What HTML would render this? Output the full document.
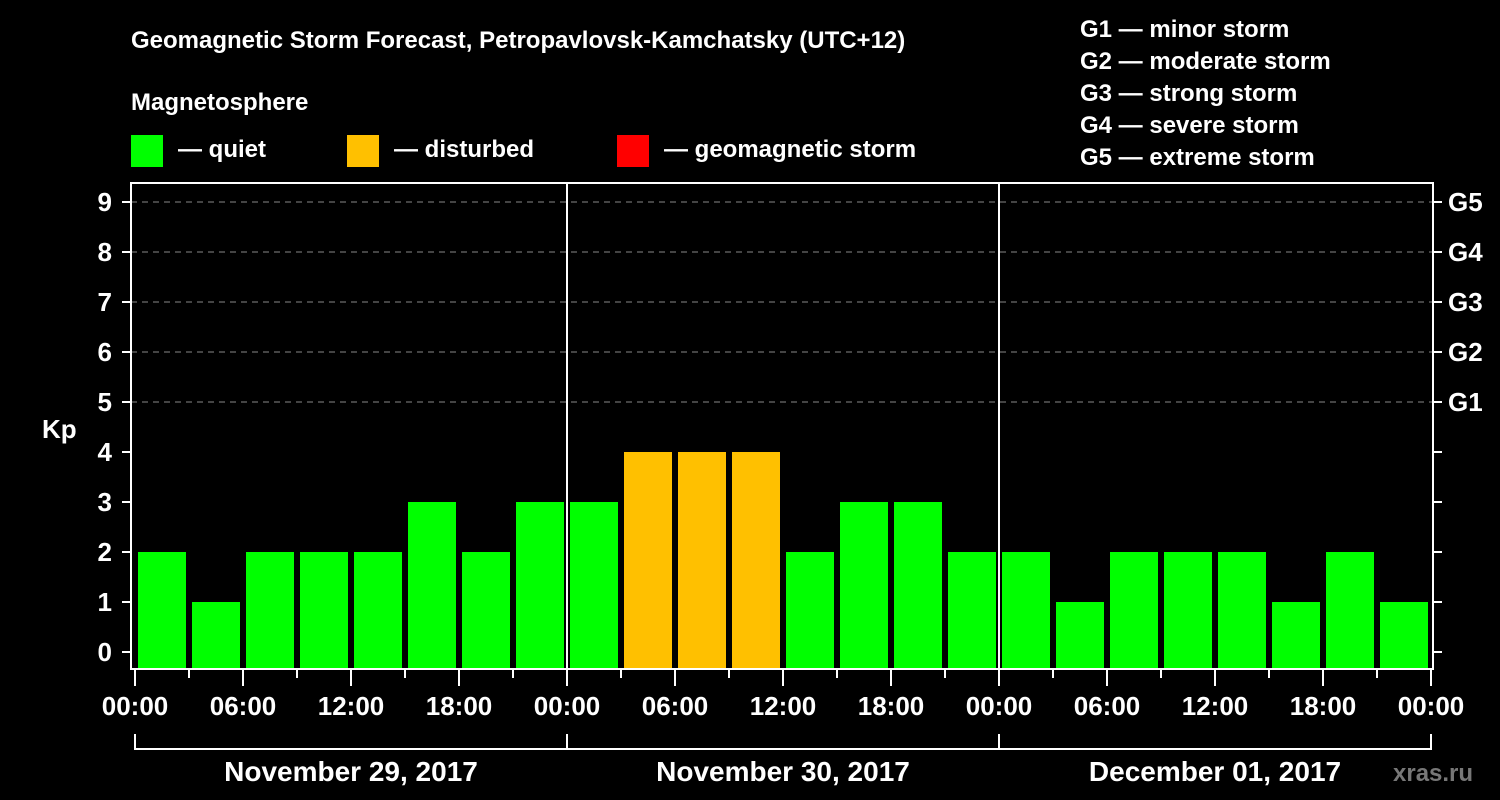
<!DOCTYPE html>
<html><head><meta charset="utf-8"><style>
html,body{margin:0;padding:0;background:#000;}
svg{display:block;font-family:"Liberation Sans",sans-serif;font-weight:bold;}
</style></head><body>
<svg id="chart" width="1500" height="800" viewBox="0 0 1500 800">
<rect width="1500" height="800" fill="#000"/>
<text x="131" y="48" fill="#fff" font-size="24">Geomagnetic Storm Forecast, Petropavlovsk-Kamchatsky (UTC+12)</text>
<text x="131" y="110" fill="#fff" font-size="24">Magnetosphere</text>
<rect x="131" y="135" width="32" height="32" fill="#00ff00"/>
<text x="178" y="157" fill="#fff" font-size="24">— quiet</text>
<rect x="347" y="135" width="32" height="32" fill="#ffc000"/>
<text x="394" y="157" fill="#fff" font-size="24">— disturbed</text>
<rect x="617" y="135" width="32" height="32" fill="#ff0000"/>
<text x="664" y="157" fill="#fff" font-size="24">— geomagnetic storm</text>
<g fill="#fff" font-size="24">
<text x="1080" y="37">G1 — minor storm</text>
<text x="1080" y="69">G2 — moderate storm</text>
<text x="1080" y="101">G3 — strong storm</text>
<text x="1080" y="133">G4 — severe storm</text>
<text x="1080" y="165">G5 — extreme storm</text>
</g>
<text x="42" y="438" fill="#fff" font-size="26">Kp</text>
<text x="1393" y="781" fill="#777" font-size="24">xras.ru</text>
<g id="grid"></g><g id="bars"></g><g id="axes"></g>
</svg>
<script>
const kpValues=[2,1,2,2,2,3,2,3, 3,4,4,4,2,3,3,2, 2,1,2,2,2,1,2,1];
const yTicks=[0,1,2,3,4,5,6,7,8,9];
const gLabels=["G1","G2","G3","G4","G5"];
const xLabels=["00:00","06:00","12:00","18:00","00:00","06:00","12:00","18:00","00:00","06:00","12:00","18:00","00:00"];
const dayLabels=["November 29, 2017","November 30, 2017","December 01, 2017"];
const NS="http://www.w3.org/2000/svg";
const X0=135,SLOT=54,Y0=652,UNIT=50,LEFT=131,RIGHT=1433,TOP=183,BOT=669;
const xs=i=>X0+SLOT*i, ys=v=>Y0-UNIT*v;
function mk(t,a,p){const e=document.createElementNS(NS,t);for(const k in a)e.setAttribute(k,a[k]);p.appendChild(e);return e;}
const grid=document.getElementById('grid'),bars=document.getElementById('bars'),axes=document.getElementById('axes');
yTicks.forEach(v=>{
 if(v>=5){const l=mk('line',{x1:LEFT,x2:RIGHT,y1:ys(v),y2:ys(v),stroke:'#888','stroke-width':1,'stroke-dasharray':'6,5'},grid);
 
 }
 const t=mk('line',{x1:122,x2:LEFT,y1:ys(v),y2:ys(v),stroke:'#fff','stroke-width':2},axes);
 
 
 const r=mk('line',{x1:RIGHT,x2:1442,y1:ys(v),y2:ys(v),stroke:'#fff','stroke-width':2},axes);
 
 
 const tx=mk('text',{x:112,y:ys(v)+9,fill:'#fff','font-size':26,'text-anchor':'end'},axes);tx.textContent=v;
 
 
 if(v>=5){const g=mk('text',{x:1448,y:ys(v)+9,fill:'#fff','font-size':26},axes);g.textContent=gLabels[v-5];
 
 }
});
kpValues.forEach((v,i)=>{
 const c=v>=5?'#ff0000':(v>=4?'#ffc000':'#00ff00');
 const b=mk('rect',{x:xs(i)+3,y:ys(v),width:SLOT-6,height:668-ys(v),fill:c},bars);
 
 
});
const frame=mk('path',{d:`M${LEFT} ${TOP}H${RIGHT}V${BOT}H${LEFT}Z`,fill:'none',stroke:'#fff','stroke-width':2},axes);


[8,16].forEach(i=>{const d=mk('line',{x1:xs(i),x2:xs(i),y1:TOP,y2:BOT,stroke:'#fff','stroke-width':2},axes);
 
 });
for(let i=0;i<=24;i++){const major=i%2===0;
 const t=mk('line',{x1:xs(i),x2:xs(i),y1:BOT,y2:major?686:678,stroke:'#fff','stroke-width':2},axes);
 
 }
xLabels.forEach((s,j)=>{const t=mk('text',{x:xs(j*2),y:715,fill:'#fff','font-size':26,'text-anchor':'middle'},axes);t.textContent=s;
 
 });
const br=mk('path',{d:`M${xs(0)} 734V749H${xs(24)}V734M${xs(8)} 734V749M${xs(16)} 734V749`,fill:'none',stroke:'#fff','stroke-width':2},axes);


dayLabels.forEach((s,j)=>{const t=mk('text',{x:xs(j*8+4),y:781,fill:'#fff','font-size':28,'text-anchor':'middle'},axes);t.textContent=s;
 
 });
</script>
</body></html>
